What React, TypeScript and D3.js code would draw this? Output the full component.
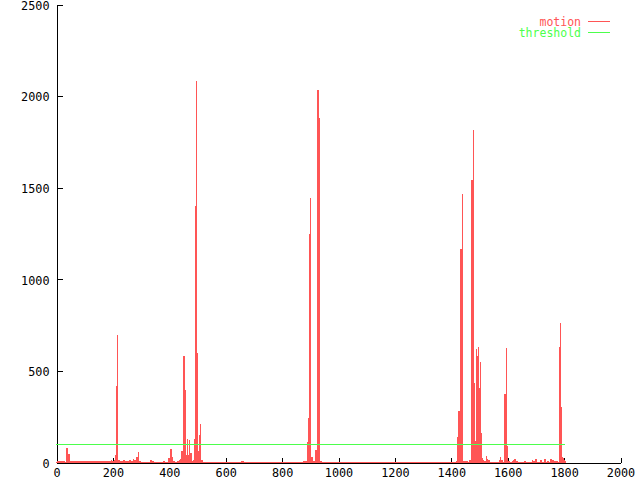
import { useEffect, useRef } from "react";
import * as d3 from "d3";

// motion samples, [frame, value]
const noiseStart: [number, number][] = [
  [3, 6], [8, 8], [14, 6], [20, 5], [26, 8], [35, 75], [38, 78], [42, 45],
  [50, 6], [58, 8], [64, 5], [70, 8], [77, 6], [84, 8], [90, 5], [97, 8],
  [104, 6], [110, 8], [118, 5], [125, 8], [132, 6], [138, 8], [145, 5],
  [152, 8], [160, 6], [166, 8], [173, 5], [180, 8], [188, 6], [195, 10],
  [200, 8], [207, 12], [210, 40], [213, 415], [216, 693], [219, 10],
  [226, 8], [232, 6], [238, 10], [245, 8], [252, 6], [258, 12], [265, 8],
  [272, 15], [278, 12], [284, 25], [290, 55], [296, 6],
  [335, 12], [340, 5], [378, 5], [398, 20], [404, 72], [411, 28], [416, 8],
];

const burstA: [number, number][] = [
  [430, 8], [436, 10], [440, 15], [445, 62], [447, 62], [451, 578],
  [456, 393], [462, 40], [465, 125], [468, 40], [471, 120], [475, 50],
  [479, 50], [482, 8], [486, 10], [489, 127], [493, 1400], [496, 2080],
  [500, 595], [504, 60], [507, 147], [511, 207], [514, 10],
];

const burstB: [number, number][] = [
  [655, 5], [660, 5],
  [876, 5], [883, 5], [890, 110], [894, 240], [897, 1246], [902, 1443],
  [906, 25], [910, 5], [914, 8], [917, 30], [920, 65], [924, 193],
  [927, 2030], [931, 1876], [935, 5],
];

const burstC: [number, number][] = [
  [1418, 8], [1422, 138], [1427, 280], [1431, 415], [1434, 1163],
  [1438, 1463], [1442, 5], [1447, 8], [1454, 8], [1466, 10],
  [1473, 1540], [1479, 1812], [1482, 433], [1486, 115], [1489, 617],
  [1493, 580], [1496, 630], [1500, 404], [1504, 546], [1507, 160],
  [1511, 24], [1514, 10], [1518, 5], [1525, 33], [1528, 15], [1532, 10],
];

const tail: [number, number][] = [
  [1571, 10], [1574, 25], [1578, 12], [1590, 371], [1594, 622],
  [1598, 87], [1602, 5], [1617, 8], [1621, 12], [1624, 15], [1630, 5],
  [1660, 5], [1688, 10], [1691, 8], [1697, 15], [1715, 10], [1730, 16],
  [1740, 8], [1752, 15], [1759, 12], [1766, 5], [1773, 5], [1784, 630],
  [1787, 760], [1791, 300], [1794, 25], [1798, 20], [1801, 10], [1805, 5],
];

const thresholdValue = 100;
const frameRange = [0, 1805];

const xTicks = [0, 200, 400, 600, 800, 1000, 1200, 1400, 1600, 1800, 2000];
const yTicks = [0, 500, 1000, 1500, 2000, 2500];

const motionColor = "#ff5555";
const thresholdColor = "#4cff4c";
const font = "'DejaVu Sans Mono', 'Liberation Mono', monospace";

export default function App() {
  const svgRef = useRef<SVGSVGElement>(null);

  useEffect(() => {
    if (!svgRef.current) return;
    const svg = d3.select(svgRef.current);
    svg.selectAll("*").remove();

    const x = d3.scaleLinear().domain([0, 2000]).range([56, 620]);
    const y = d3.scaleLinear().domain([0, 2500]).range([462, 4]);

    const motion = [...noiseStart, ...burstA, ...burstB, ...burstC, ...tail];

    // axes (left and bottom border only)
    const yAxis = svg
      .append("g")
      .attr("transform", "translate(56.5,0.5)")
      .call(
        d3.axisLeft(y).tickValues(yTicks).tickSizeInner(-6).tickSizeOuter(0).tickPadding(7)
          .tickFormat((d) => String(d))
      );
    const xAxis = svg
      .append("g")
      .attr("transform", "translate(0.5,462.5)")
      .call(
        d3.axisBottom(x).tickValues(xTicks).tickSizeInner(-5).tickSizeOuter(0).tickPadding(6)
          .tickFormat((d) => String(d))
      );
    [yAxis, xAxis].forEach((a) => {
      a.attr("font-family", font).attr("font-size", 11.8);
      a.selectAll("path, line").attr("stroke", "#000").attr("shape-rendering", "crispEdges");
      a.selectAll("text").attr("fill", "#000");
    });
    yAxis.selectAll("text").attr("dy", "0.4em");
    xAxis.selectAll(".tick").filter((d) => d === 0).select("line").remove();

    const g = svg.append("g").attr("shape-rendering", "crispEdges");

    // zero impulses along the floor
    g.append("line")
      .attr("x1", x(frameRange[0]))
      .attr("x2", x(frameRange[1]))
      .attr("y1", y(0) + 0.5)
      .attr("y2", y(0) + 0.5)
      .attr("stroke", motionColor)
      .attr("stroke-width", 1);

    // impulses: each sample fills its pixel column up to the next sample
    g.selectAll("rect.imp")
      .data(motion)
      .enter()
      .append("rect")
      .attr("class", "imp")
      .attr("x", (d) => Math.round(x(d[0])))
      .attr("width", (d, i) => {
        const next = motion[i + 1];
        const w = next ? Math.round(x(next[0])) - Math.round(x(d[0])) : 1;
        return Math.max(1, Math.min(2, w));
      })
      .attr("y", (d) => Math.round(y(d[1])))
      .attr("height", (d) => Math.max(1, y(0) + 1 - Math.round(y(d[1]))))
      .attr("fill", motionColor);

    g.append("line")
      .attr("x1", x(frameRange[0]))
      .attr("x2", x(frameRange[1]))
      .attr("y1", Math.round(y(thresholdValue)) + 0.5)
      .attr("y2", Math.round(y(thresholdValue)) + 0.5)
      .attr("stroke", thresholdColor)
      .attr("stroke-width", 1);

    // legend
    const legend = [
      { label: "motion", color: motionColor, yy: 21.5 },
      { label: "threshold", color: thresholdColor, yy: 32.5 },
    ];
    legend.forEach((l) => {
      svg.append("text")
        .attr("x", 581)
        .attr("y", l.yy)
        .attr("dy", "0.35em")
        .attr("text-anchor", "end")
        .attr("font-family", font)
        .attr("font-size", 11.5)
        .attr("fill", l.color)
        .text(l.label);
      svg.append("line")
        .attr("x1", 588)
        .attr("x2", 610)
        .attr("y1", l.yy)
        .attr("y2", l.yy)
        .attr("stroke", l.color)
        .attr("shape-rendering", "crispEdges");
    });
  }, []);

  return (
    <svg
      ref={svgRef}
      width={640}
      height={480}
      style={{ position: "absolute", left: 0, top: 0, background: "#fff" }}
    />
  );
}
